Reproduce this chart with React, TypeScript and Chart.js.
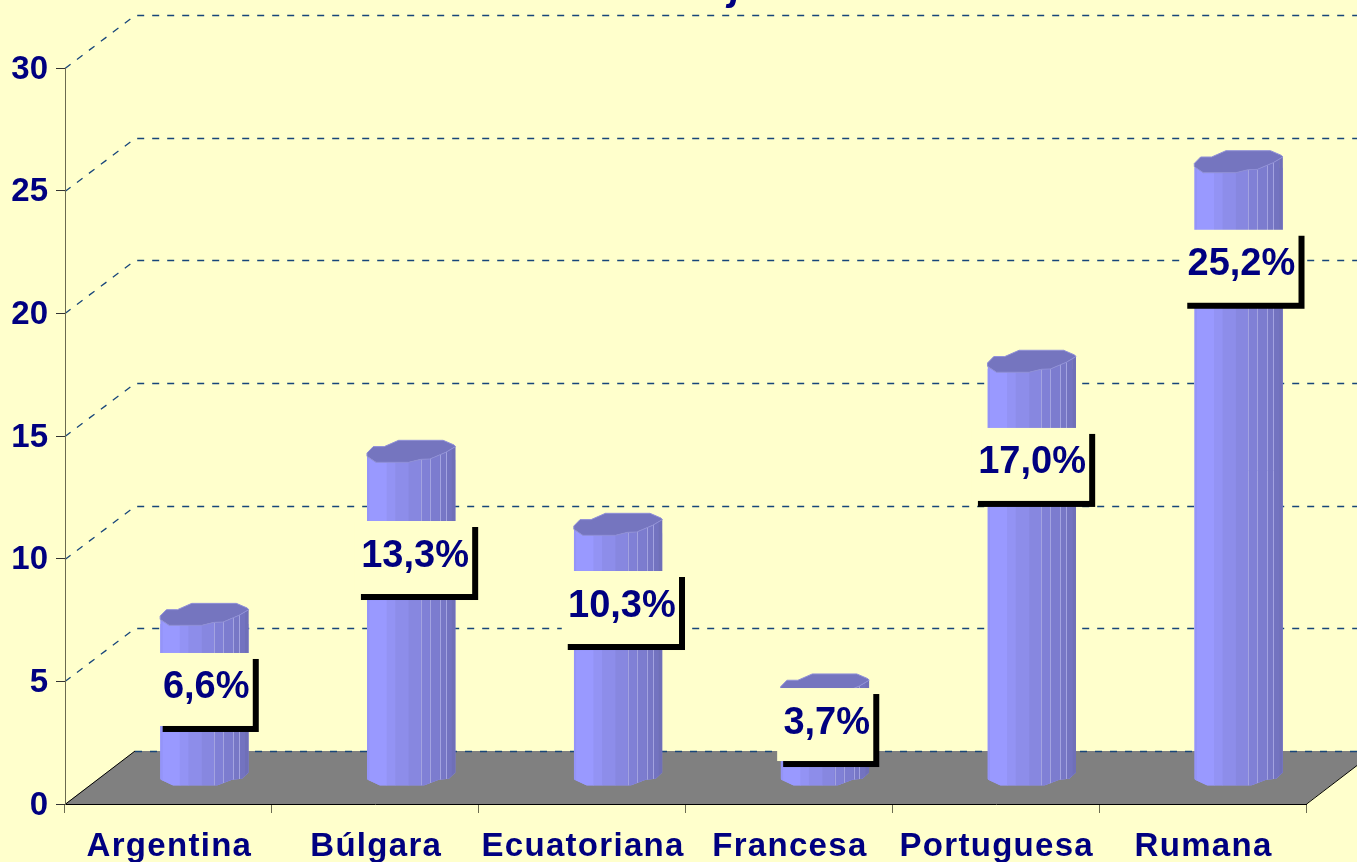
import React, { useEffect, useRef } from "react";
import { Chart, registerables, CategoryScale, LinearScale } from "chart.js";

class SpacedCategoryScale extends CategoryScale {
  static id = "spacedCategory";
  static defaults = CategoryScale.defaults;
  drawLabels(area: any) {
    const ctx: any = (this as any).ctx;
    ctx.save();
    ctx.letterSpacing = "1.3px";
    ctx.translate(1, 0);
    (CategoryScale.prototype as any).drawLabels.call(this, area);
    ctx.restore();
  }
}
class NudgedLinearScale extends LinearScale {
  static id = "nudgedLinear";
  static defaults = LinearScale.defaults;
  drawLabels(area: any) {
    const ctx: any = (this as any).ctx;
    ctx.save();
    ctx.translate(0, 1.5);
    (LinearScale.prototype as any).drawLabels.call(this, area);
    ctx.restore();
  }
}
Chart.register(...registerables, SpacedCategoryScale as any, NudgedLinearScale as any);

const categories = ["Argentina", "Búlgara", "Ecuatoriana", "Francesa", "Portuguesa", "Rumana"];
const percentages = [6.6, 13.3, 10.3, 3.7, 17.0, 25.2];
const yTicks = [0, 5, 10, 15, 20, 25, 30];

// layout of the pseudo-3D scene
const labelShiftX = [0.3, 2.3, 2.3, 0.3, -1.2, 1.3];
const labelShiftY = [28.9, 61.3, 37.7, -7.2, 59, 62];
const DEPTH_X = 70;
const DEPTH_Y = 53;
const BAR_DX = 36;
const BAR_DY = -18;
const BAR_RISE = 0.992;
const BG = "#FFFFCC";
const NAVY = "#000080";
const FONT = '"Liberation Sans", Arial, sans-serif';

const topEdge = [[0, -9.3], [6.3, -15.7], [17.3, -15.7], [31.7, -22], [76.3, -22], [87.3, -17.3], [88.7, -15.7], [79, -10], [63, -3.3], [54, -3], [41.7, 0], [9, 0], [0, -6]];
const frontEdge = [[0, -6], [9, 0], [41.7, 0], [54, -3], [63, -3.3], [79, -10], [88.7, -15.7]];
const bottomEdge = [[88.7, -13], [82, -6.7], [72, -5.7], [57, 0], [13, 0], [0.7, -5.7], [0, -7]];
const bands: [number, string][] = [[0, "#9494F8"], [2.5, "#9999FF"], [19.7, "#9393F4"], [28.3, "#8D8DEA"], [41.7, "#8787E0"], [54, "#8080D6"], [63, "#7C7CCF"], [73, "#7777C6"], [79, "#7373C0"], [85, "#6F6FB8"]];
const seams = [54, 63, 73, 79];

const riseY = (el: any) => el.base - (el.base - el.y) * BAR_RISE;

function bodyPath(ctx: CanvasRenderingContext2D, x0: number, yTop: number, yBase: number, k: number) {
  ctx.beginPath();
  frontEdge.forEach(([a, b], i) => {
    const px = x0 + a * k, py = yTop + b;
    if (i === 0) ctx.moveTo(px, py); else ctx.lineTo(px, py);
  });
  bottomEdge.forEach(([a, b]) => ctx.lineTo(x0 + a * k, yBase + b));
  ctx.closePath();
}

const scenePlugin = {
  id: "scene",
  beforeDraw(chart: any) {
    const { ctx, scales, chartArea, width, height } = chart;
    const y = scales.y;
    const left = chartArea.left, right = chartArea.right, y0 = y.getPixelForValue(0);
    ctx.save();
    ctx.fillStyle = BG;
    ctx.fillRect(0, 0, width, height);
    // floor
    ctx.beginPath();
    ctx.moveTo(left, y0);
    ctx.lineTo(left + DEPTH_X, y0 - DEPTH_Y);
    ctx.lineTo(right + DEPTH_X, y0 - DEPTH_Y);
    ctx.lineTo(right, y0);
    ctx.closePath();
    ctx.fillStyle = "#808080";
    ctx.fill();
    ctx.strokeStyle = "#000000";
    ctx.lineWidth = 1;
    ctx.beginPath();
    ctx.moveTo(left, y0 + 0.5);
    ctx.lineTo(left + DEPTH_X, y0 - DEPTH_Y);
    ctx.moveTo(right, y0 + 0.5);
    ctx.lineTo(right + DEPTH_X, y0 - DEPTH_Y);
    ctx.stroke();
    // dashed walls
    ctx.strokeStyle = "#17457A";
    ctx.lineWidth = 1.3;
    ctx.setLineDash([7, 8]);
    yTicks.forEach((t) => {
      const py = Math.round(y.getPixelForValue(t)) + 0.5;
      ctx.beginPath();
      if (t !== 0) {
        ctx.moveTo(left, py);
        ctx.lineTo(left + DEPTH_X, py - DEPTH_Y);
      } else {
        ctx.moveTo(left + DEPTH_X, py - DEPTH_Y);
      }
      ctx.lineTo(width, py - DEPTH_Y);
      ctx.stroke();
    });
    ctx.restore();
  },
  beforeDatasetDraw(chart: any, args: any) {
    const { ctx } = chart;
    const meta = chart.getDatasetMeta(args.index);
    ctx.save();
    ctx.translate(BAR_DX, BAR_DY);
    ctx.beginPath();
    meta.data.forEach((el: any) => {
      const k = el.width / 88.7, x0 = el.x - el.width / 2, yT = riseY(el);
      frontEdge.forEach(([a, b], i) => {
        if (i === 0) ctx.moveTo(x0 + a * k, yT + b); else ctx.lineTo(x0 + a * k, yT + b);
      });
      bottomEdge.forEach(([a, b]) => ctx.lineTo(x0 + a * k, el.base + b));
      ctx.closePath();
    });
    ctx.clip();
  },
  afterDatasetDraw(chart: any, args: any) {
    const { ctx } = chart;
    const meta = chart.getDatasetMeta(args.index);
    ctx.restore();
    meta.data.forEach((el: any) => {
      const k = el.width / 88.7;
      const x0 = el.x - el.width / 2 + BAR_DX;
      const yTop = riseY(el) + BAR_DY, yBase = el.base + BAR_DY;
      ctx.save();
      bodyPath(ctx, x0, yTop, yBase, k);
      ctx.clip();
      bands.forEach(([a, c], i) => {
        const end = i + 1 < bands.length ? bands[i + 1][0] : 88.7;
        ctx.fillStyle = c;
        ctx.fillRect(x0 + a * k, yTop - 30, (end - a) * k + 0.5, yBase - yTop + 40);
      });
      ctx.strokeStyle = "#A3A3E0";
      ctx.lineWidth = 1;
      seams.forEach((a) => {
        ctx.beginPath();
        ctx.moveTo(Math.round(x0 + a * k) + 0.5, yTop - 30);
        ctx.lineTo(Math.round(x0 + a * k) + 0.5, yBase);
        ctx.stroke();
      });
      ctx.restore();
      ctx.beginPath();
      topEdge.forEach(([a, b], i) => {
        if (i === 0) ctx.moveTo(x0 + a * k, yTop + b); else ctx.lineTo(x0 + a * k, yTop + b);
      });
      ctx.closePath();
      ctx.fillStyle = "#7575BF";
      ctx.fill();
      ctx.strokeStyle = "#8F8FD8";
      ctx.lineWidth = 1;
      ctx.stroke();
    });
  },
  afterDatasetsDraw(chart: any) {
    const { ctx } = chart;
    const meta = chart.getDatasetMeta(0);
    ctx.save();
    ctx.font = `bold 38px ${FONT}`;
    ctx.textAlign = "center";
    ctx.textBaseline = "alphabetic";
    meta.data.forEach((el: any, i: number) => {
      const text = percentages[i].toFixed(1).replace(".", ",") + "%";
      const w = ctx.measureText(text).width + 9.5;
      const cx = el.x + BAR_DX + labelShiftX[i];
      const top = el.y + BAR_DY + labelShiftY[i];
      const h = 73;
      ctx.fillStyle = "#000000";
      ctx.fillRect(cx - w / 2 + 6, top + 6, w, h);
      ctx.fillStyle = BG;
      ctx.fillRect(cx - w / 2, top, w, h);
      ctx.fillStyle = NAVY;
      ctx.fillText(text, cx + 1.5, top + 45.5);
    });
    // descender of the cropped-off title
    ctx.font = `italic bold 40px ${FONT}`;
    ctx.textAlign = "left";
    ctx.fillText("j", 730, 0);
    ctx.restore();
  },
};

export default function App() {
  const ref = useRef<HTMLCanvasElement>(null);
  useEffect(() => {
    const chart = new Chart(ref.current!, {
      type: "bar",
      data: {
        labels: categories,
        datasets: [{
          data: percentages,
          backgroundColor: "#9999FF",
          borderWidth: 0,
          barPercentage: 1,
          categoryPercentage: 0.428,
          clip: false,
        } as any],
      },
      options: {
        animation: false,
        responsive: false,
        layout: { autoPadding: false, padding: { top: 68, left: 0, right: 51, bottom: 0 } },
        plugins: { legend: { display: false }, title: { display: false }, tooltip: { enabled: false } },
        scales: {
          x: {
            type: "spacedCategory" as any,
            afterFit: (s: any) => { s.height = 58; },
            grid: { drawOnChartArea: false, drawTicks: true, tickLength: 9, color: "#6B6B50", offset: true },
            border: { color: "#000000", width: 1 },
            ticks: { color: NAVY, font: { family: FONT, size: 33, weight: "bold" }, padding: 14, maxRotation: 0, autoSkip: false },
          },
          y: {
            type: "nudgedLinear" as any,
            min: 0,
            max: 30,
            afterFit: (s: any) => { s.width = 65; },
            grid: { drawOnChartArea: false, drawTicks: true, tickLength: 9, color: "#333333" },
            border: { color: "#6B6B50", width: 1 },
            ticks: { stepSize: 5, color: NAVY, font: { family: FONT, size: 33, weight: "bold" }, padding: 8 },
          },
        },
      },
      plugins: [scenePlugin as any],
    });
    return () => chart.destroy();
  }, []);
  return (
    <canvas
      ref={ref}
      width={1357}
      height={862}
      style={{ position: "fixed", left: 0, top: 0, width: 1357, height: 862, display: "block" }}
    />
  );
}
